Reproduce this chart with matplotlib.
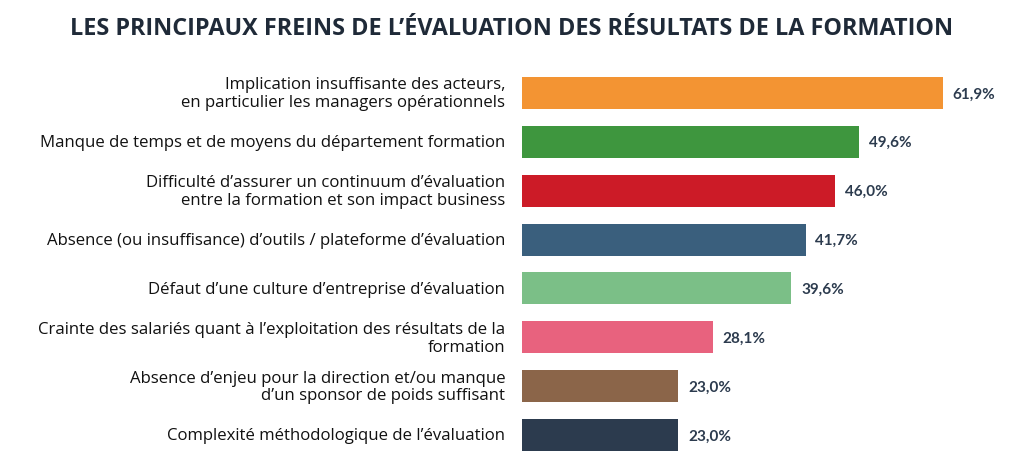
import matplotlib
matplotlib.use("Agg")
import matplotlib.pyplot as plt

categories = [
    "Implication insuffisante des acteurs,\nen particulier les managers opérationnels",
    "Manque de temps et de moyens du département formation",
    "Difficulté d’assurer un continuum d’évaluation\nentre la formation et son impact business",
    "Absence (ou insuffisance) d’outils / plateforme d’évaluation",
    "Défaut d’une culture d’entreprise d’évaluation",
    "Crainte des salariés quant à l’exploitation des résultats de la\nformation",
    "Absence d’enjeu pour la direction et/ou manque\nd’un sponsor de poids suffisant",
    "Complexité méthodologique de l’évaluation",
]
values = [61.9, 49.6, 46.0, 41.7, 39.6, 28.1, 23.0, 23.0]
value_labels = ["61,9%", "49,6%", "46,0%", "41,7%", "39,6%", "28,1%", "23,0%", "23,0%"]
colors = ["#F39433", "#3E963E", "#CC1B27", "#3A5F7D", "#7BBF87", "#E8627E", "#8B6549", "#2C3B4E"]
title = "LES PRINCIPAUX FREINS DE L’ÉVALUATION DES RÉSULTATS DE LA FORMATION"

W, H = 1024, 466
fig = plt.figure(figsize=(W / 100, H / 100), dpi=100)
ax = fig.add_axes([522 / W, 6 / H, (W - 522) / W, 400 / H])
pos = list(range(len(values)))
ax.barh(pos, values, height=0.655, color=colors, edgecolor="none")
ax.set_xlim(0, (W - 522) / 6.8)
ax.set_ylim(7.51, -0.675)
ax.axis("off")

for p, v, lab, cat in zip(pos, values, value_labels, categories):
    ax.annotate(lab, (v, p), xytext=(7, -1), textcoords="offset points",
                ha="left", va="center", fontsize=11, fontweight="bold",
                family="Lato", color="#2C3B4E")
    ax.annotate(cat, (0, p), xytext=(-12, -1), textcoords="offset points",
                ha="right", va="center", fontsize=12.1, family="Open Sans",
                color="#111111", linespacing=1.15, multialignment="right")

fig.text(0.5, 1 - 35 / H, title, ha="center", va="baseline", fontsize=16.8,
         fontweight="bold", family="Open Sans", color="#1F2A38")

fig.savefig("out.png", dpi=100, facecolor="white")
